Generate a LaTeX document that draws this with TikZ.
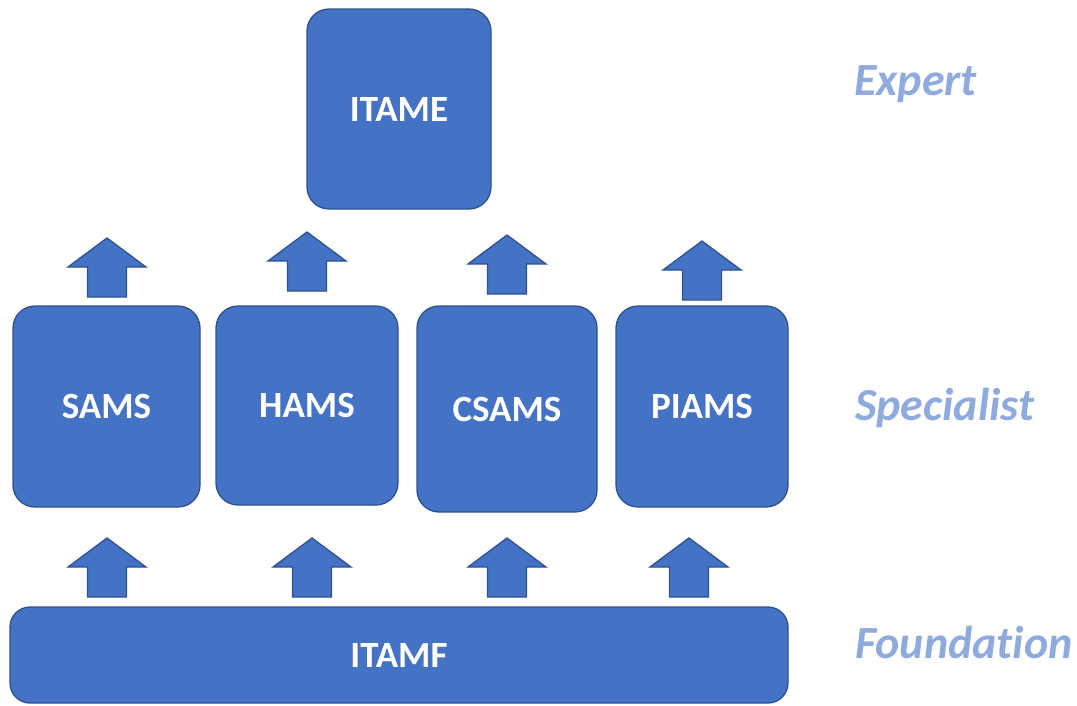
\documentclass[tikz,border=0pt]{standalone}
\usepackage{fontspec}
\setmainfont[Ligatures=NoCommon]{Carlito}
\definecolor{boxc}{HTML}{4472C4}
\definecolor{bordc}{HTML}{2F528F}
\definecolor{levc}{HTML}{8FAADC}
\tikzset{
  box/.style={draw=bordc, fill=boxc, line width=1.3pt, rounded corners=22pt,
    text=white, font=\fontsize{37}{42}\selectfont\bfseries, inner sep=0pt},
  level/.style={text=levc, font=\fontsize{46}{52}\selectfont\bfseries\itshape,
    anchor=base west, inner sep=0pt},
  pics/uparr/.style={code={
    \draw[draw=bordc, fill=boxc, line width=1.3pt]
      (-19.5,0) -- (-19.5,-30) -- (-39,-30) -- (0,-59) -- (39,-30)
      -- (19.5,-30) -- (19.5,0) -- cycle;}}
}
\begin{document}
\begin{tikzpicture}[x=1pt, y=-1pt]
\useasboundingbox (0,0) rectangle (1077,705);
% boxes
\node[box, minimum width=184pt, minimum height=200pt] (itame) at (399,109) {ITAME};
\node[box, minimum width=187pt, minimum height=201pt] (sams) at (106.5,406.5) {SAMS};
\node[box, minimum width=182pt, minimum height=199pt] (hams) at (307,405.5) {HAMS};
\node[box, minimum width=180pt, minimum height=206pt] (csams) at (507,409) {CSAMS};
\node[box, minimum width=172pt, minimum height=201pt] (piams) at (702,406.5) {PIAMS};
\node[box, rounded corners=20pt, minimum width=778pt, minimum height=96pt] (itamf) at (399,655) {ITAMF};
% arrows from specialist to expert
\pic at (107,297) {uparr};
\pic at (307,291) {uparr};
\pic at (507,294) {uparr};
\pic at (702,300) {uparr};
% arrows from foundation to specialist
\pic at (107,597) {uparr};
\pic at (312,597) {uparr};
\pic at (507,597) {uparr};
\pic at (689,597) {uparr};
% level labels
\node[level] (expert) at (854,95) {Expert};
\node[level] (specialist) at (855,420) {Specialist};
\node[level] (foundation) at (855,658) {Foundation};
\end{tikzpicture}
\end{document}
